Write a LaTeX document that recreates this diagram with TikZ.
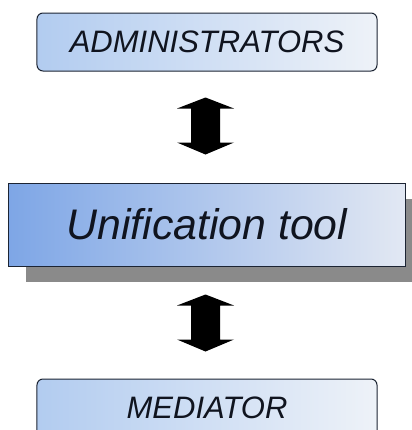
\documentclass[tikz,border=0pt]{standalone}
\usepackage{fontspec}
\setmainfont{Liberation Sans}
\usetikzlibrary{calc,shadows}

\definecolor{boxline}{HTML}{1C2433}
\definecolor{txt}{HTML}{10141F}
\definecolor{paleL}{HTML}{B2CCF0}
\definecolor{paleR}{HTML}{EEF2F8}
\definecolor{deepL}{HTML}{7EA6E6}
\definecolor{deepR}{HTML}{E2E8F3}
\definecolor{shadowgray}{HTML}{8A8A8A}

\tikzset{
  rolebox/.style={draw=boxline, line width=1bp, rounded corners=6bp,
    minimum width=340bp, minimum height=58bp, inner sep=0pt,
    left color=paleL, right color=paleR,
    font=\itshape\fontsize{31bp}{33bp}\selectfont, text=txt},
  toolbox/.style={draw=boxline, line width=1bp,
    minimum width=396bp, minimum height=83bp, inner sep=0pt,
    left color=deepL, right color=deepR,
    drop shadow={shadow xshift=17bp, shadow yshift=-16bp,
      fill=shadowgray, opacity=1},
    font=\itshape\fontsize{42.8bp}{44bp}\selectfont, text=txt},
  link/.style={fill=black},
}

% two-headed block arrow between the tips #1 (top) and #2 (bottom)
\newcommand\blockarrow[2]{%
  \fill[link] (#1) -- ($(#1)+(28.5,11)$) -- ($(#1)+(14.5,11)$)
    -- ($(#2)+(14.5,-12)$) -- ($(#2)+(28.5,-12)$) -- (#2)
    -- ($(#2)+(-28.5,-12)$) -- ($(#2)+(-14.5,-12)$)
    -- ($(#1)+(-14.5,11)$) -- ($(#1)+(-28.5,11)$) -- cycle;}

\begin{document}
\begin{tikzpicture}[x=1bp, y=-1bp]
  \useasboundingbox (0,0) rectangle (412,430);

  \node[rolebox] (adm) at (207,42) {ADMINISTRATORS};
  \node[toolbox] (uni) at (207,224.5) {Unification tool};
  \node[rolebox] (med) at (207,408) {MEDIATOR};

  % arrow tips placed relative to the boxes they join
  \coordinate (a1) at ($(adm.south)+(-1.5,26)$);
  \coordinate (a2) at ($(uni.north)+(-1.5,-28)$);
  \coordinate (b1) at ($(uni.south)+(-1.5,28)$);
  \coordinate (b2) at ($(med.north)+(-1.5,-27)$);

  \blockarrow{a1}{a2}
  \blockarrow{b1}{b2}
\end{tikzpicture}
\end{document}
